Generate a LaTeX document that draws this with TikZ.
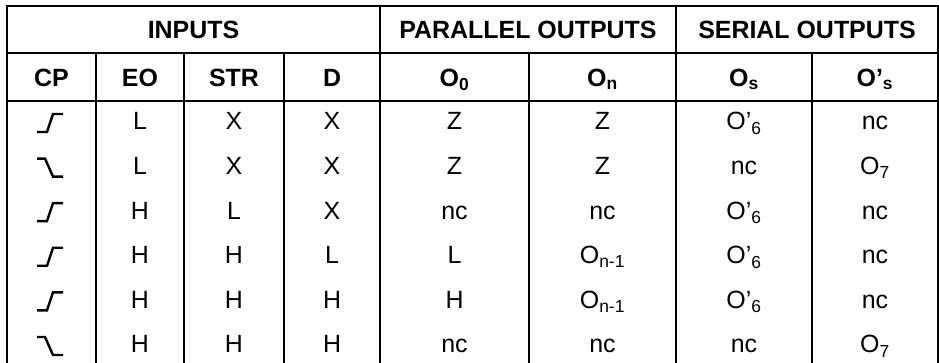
\documentclass[tikz,border=0pt]{standalone}
\usepackage{fontspec}
\setmainfont{Liberation Sans}

\begin{document}
\begin{tikzpicture}[x=0.75pt,y=-0.75pt,line width=0.9pt,
  every node/.style={anchor=base,inner sep=0pt,font=\fontsize{18.7}{22}\selectfont},
  head/.style={font=\fontsize{18.7}{22}\selectfont\bfseries},
  edge/.style={line width=1.8pt}]
\useasboundingbox (0,0) rectangle (939,363);
\draw (7,363) -- (7,6) -- (938,6) -- (938,363);
\draw (7,53) -- (938,53);
\draw (7,101) -- (938,101);
\draw (96,53) -- (96,363);
\draw (184,53) -- (184,363);
\draw (284,53) -- (284,363);
\draw (380,6) -- (380,363);
\draw (529,53) -- (529,363);
\draw (676,6) -- (676,363);
\draw (812,53) -- (812,363);
\node[head] (inputs) at (193.5,38.5) {INPUTS};
\node[head] (parallel) at (528,38.5) {PARALLEL OUTPUTS};
\node[head] (serial) at (807,38.5) {SERIAL OUTPUTS};
\node[head] (cp) at (51.5,86.5) {CP};
\node[head] (eo) at (140,86.5) {EO};
\node[head] (str) at (234,86.5) {STR};
\node[head] (d) at (332,86.5) {D};
\node[head] (oz) at (454.5,86.5) {O\textsubscript{0}};
\node[head] (on) at (602.5,86.5) {O\textsubscript{n}};
\node[head] (os) at (744,86.5) {O\textsubscript{s}};
\node[head] (ops) at (875,86.5) {O’\textsubscript{s}};
\draw[edge] (37,132) -- (47,132) -- (53,114) -- (63,114);
\node (eo1) at (140,130) {L};
\node (str1) at (234,130) {X};
\node (d1) at (332,130) {X};
\node (oz1) at (454.5,130) {Z};
\node (on1) at (602.5,130) {Z};
\node (os1) at (744,130) {O’\textsubscript{6}};
\node (ops1) at (875,130) {nc};
\draw[edge] (37,158.6) -- (45,158.6) -- (53,176.6) -- (63,176.6);
\node (eo2) at (140,174.6) {L};
\node (str2) at (234,174.6) {X};
\node (d2) at (332,174.6) {X};
\node (oz2) at (454.5,174.6) {Z};
\node (on2) at (602.5,174.6) {Z};
\node (os2) at (744,174.6) {nc};
\node (ops2) at (875,174.6) {O\textsubscript{7}};
\draw[edge] (37,221.2) -- (47,221.2) -- (53,203.2) -- (63,203.2);
\node (eo3) at (140,219.2) {H};
\node (str3) at (234,219.2) {L};
\node (d3) at (332,219.2) {X};
\node (oz3) at (454.5,219.2) {nc};
\node (on3) at (602.5,219.2) {nc};
\node (os3) at (744,219.2) {O’\textsubscript{6}};
\node (ops3) at (875,219.2) {nc};
\draw[edge] (37,265.8) -- (47,265.8) -- (53,247.8) -- (63,247.8);
\node (eo4) at (140,263.8) {H};
\node (str4) at (234,263.8) {H};
\node (d4) at (332,263.8) {L};
\node (oz4) at (454.5,263.8) {L};
\node (on4) at (602.5,263.8) {O\textsubscript{n-1}};
\node (os4) at (744,263.8) {O’\textsubscript{6}};
\node (ops4) at (875,263.8) {nc};
\draw[edge] (37,310.4) -- (47,310.4) -- (53,292.4) -- (63,292.4);
\node (eo5) at (140,308.4) {H};
\node (str5) at (234,308.4) {H};
\node (d5) at (332,308.4) {H};
\node (oz5) at (454.5,308.4) {H};
\node (on5) at (602.5,308.4) {O\textsubscript{n-1}};
\node (os5) at (744,308.4) {O’\textsubscript{6}};
\node (ops5) at (875,308.4) {nc};
\draw[edge] (37,337) -- (45,337) -- (53,355) -- (63,355);
\node (eo6) at (140,353) {H};
\node (str6) at (234,353) {H};
\node (d6) at (332,353) {H};
\node (oz6) at (454.5,353) {nc};
\node (on6) at (602.5,353) {nc};
\node (os6) at (744,353) {nc};
\node (ops6) at (875,353) {O\textsubscript{7}};
\end{tikzpicture}
\end{document}
